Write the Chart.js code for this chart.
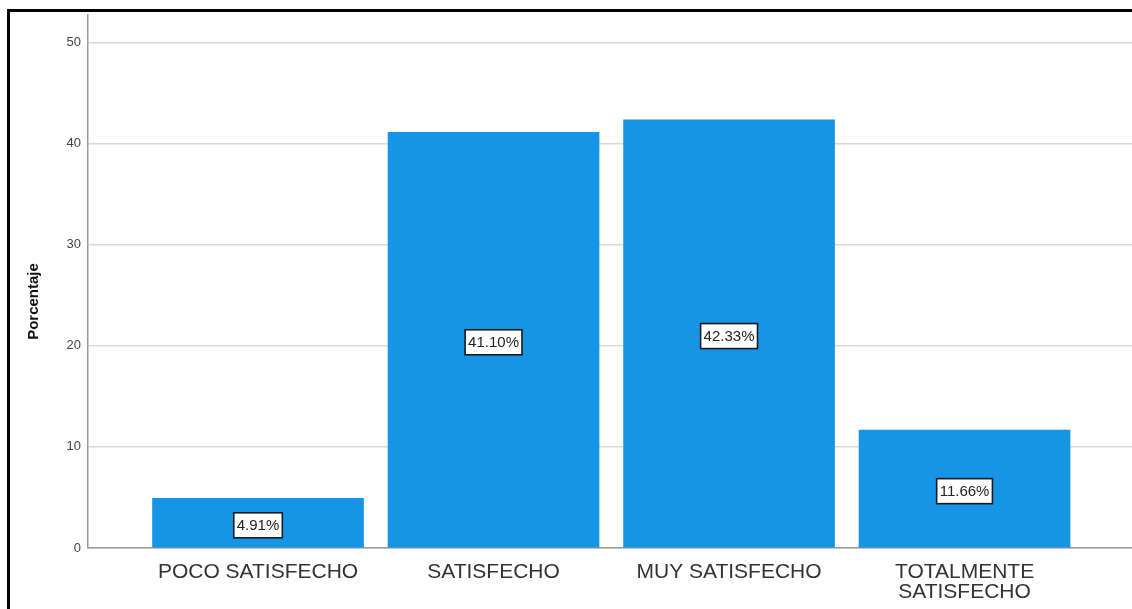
<!DOCTYPE html>
<html><head><meta charset="utf-8">
<script src="https://cdn.jsdelivr.net/npm/chart.js@4/dist/chart.umd.min.js"></script>
<style>
html,body{margin:0;padding:0;background:#fff;overflow:hidden;}
#frame{position:absolute;left:7px;top:9px;width:1200px;height:700px;border-left:3px solid #000;border-top:3px solid #000;}
#wrap{position:absolute;left:0;top:0;width:1132px;height:609px;}
</style></head><body>
<div id="frame"></div>
<div id="wrap"><canvas id="c" width="1132" height="609"></canvas></div>
<script>
const categories = [["POCO SATISFECHO"], ["SATISFECHO"], ["MUY SATISFECHO"], ["TOTALMENTE", "SATISFECHO"]];
const percentages = [4.91, 41.10, 42.33, 11.66];
const yTicks = [0, 10, 20, 30, 40, 50];
const yTitle = "Porcentaje";

const FONT = '"Liberation Sans", Arial, sans-serif';
const valueLabels = percentages.map(v => v.toFixed(2) + '%');

const boxLabels = {
  id: 'boxLabels',
  afterDatasetsDraw(chart) {
    const ctx = chart.ctx;
    const meta = chart.getDatasetMeta(0);
    ctx.save();
    ctx.font = '15px ' + FONT;
    meta.data.forEach((bar, i) => {
      const t = valueLabels[i];
      const w = ctx.measureText(t).width + 6;
      const h = 25;
      const cx = bar.x;
      const cy = (bar.y + bar.base) / 2 + 2.5;
      ctx.fillStyle = '#fff';
      ctx.fillRect(cx - w / 2, cy - h / 2, w, h);
      ctx.strokeStyle = '#1a1a1a';
      ctx.lineWidth = 1.6;
      ctx.strokeRect(cx - w / 2, cy - h / 2, w, h);
      ctx.fillStyle = '#222';
      ctx.textAlign = 'center';
      ctx.textBaseline = 'middle';
      ctx.fillText(t, cx, cy + 1);
    });
    ctx.restore();
  }
};

const yTitlePlugin = {
  id: 'yTitlePlugin',
  afterDraw(chart) {
    const ctx = chart.ctx;
    ctx.save();
    ctx.translate(34, chart.height / 2 - 3);
    ctx.rotate(-Math.PI / 2);
    ctx.font = 'bold 15px ' + FONT;
    ctx.fillStyle = '#111';
    ctx.textAlign = 'center';
    ctx.textBaseline = 'middle';
    ctx.fillText(yTitle, 0, 0);
    ctx.restore();
  }
};

new Chart(document.getElementById('c'), {
  type: 'bar',
  data: {
    datasets: [{
      data: percentages.map((v, i) => ({ x: i + 1, y: v })),
      backgroundColor: 'rgb(22,149,230)',
      borderWidth: 0,
      barThickness: 211
    }]
  },
  options: {
    responsive: false,
    animation: false,
    layout: { padding: { left: 0, right: 0, top: 15, bottom: 0 } },
    plugins: { legend: { display: false }, tooltip: { enabled: false } },
    scales: {
      x: {
        type: 'linear',
        offset: false,
        min: 0.278,
        max: 4.711,
        afterBuildTicks(scale) { scale.ticks = categories.map((_, i) => ({ value: i + 1 })); },
        afterFit(scale) { scale.height = 61; },
        grid: { display: false, drawTicks: false, offset: false },
        border: { display: true, color: '#9a9a9a', width: 1.5 },
        ticks: {
          autoSkip: false,
          maxRotation: 0,
          padding: 14,
          color: '#333',
          font: { family: FONT, size: 21, lineHeight: '20px' },
          callback: (v) => categories[Math.round(v) - 1]
        }
      },
      y: {
        min: 0,
        max: 52.7,
        afterBuildTicks(scale) { scale.ticks = yTicks.map(v => ({ value: v })); },
        afterFit(scale) { scale.width = 88; },
        grid: { color: '#d9d9d9', lineWidth: 1.5, drawTicks: false, tickLength: 0 },
        border: { display: true, color: '#9a9a9a', width: 1.5 },
        ticks: {
          padding: 7,
          color: '#444',
          font: { family: FONT, size: 13 }
        }
      }
    }
  },
  plugins: [boxLabels, yTitlePlugin]
});
</script>
</body></html>
